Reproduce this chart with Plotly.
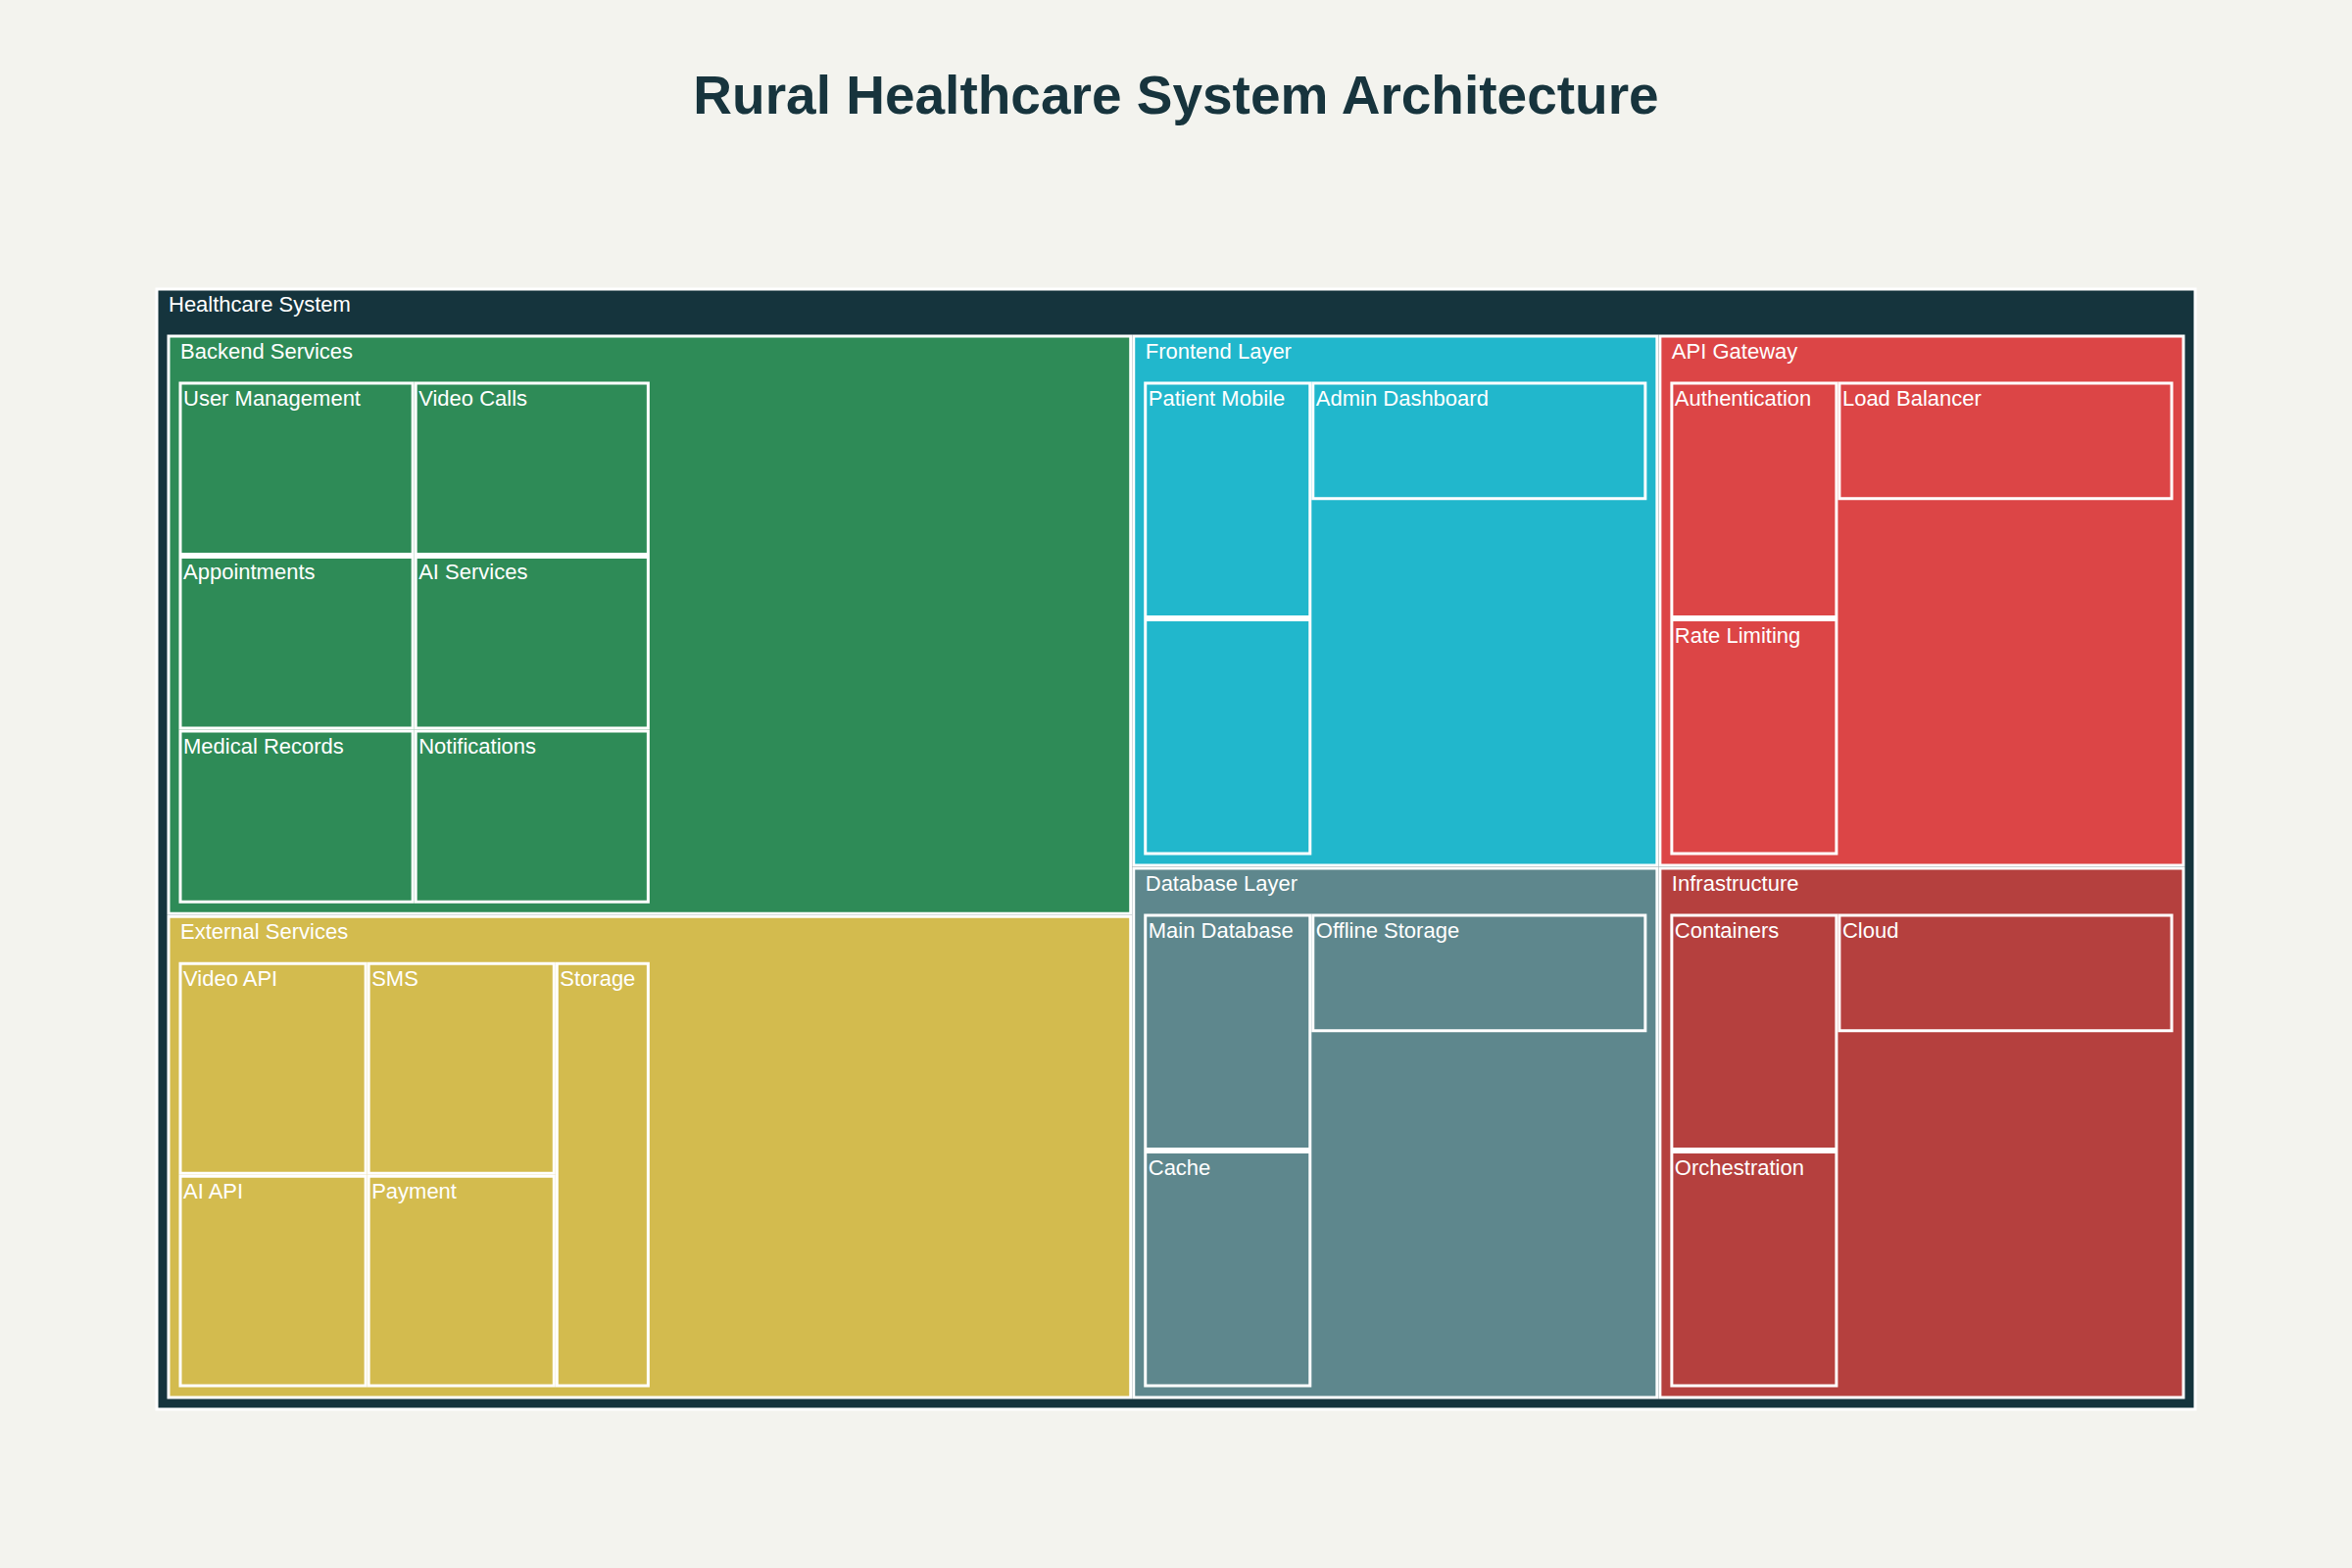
import plotly.graph_objects as go

# ---------------- data ----------------
root_label = "Healthcare System"

categories = ["Backend Services", "External Services", "Frontend Layer",
              "API Gateway", "Database Layer", "Infrastructure"]
category_values = [30, 25, 15, 15, 15, 15]
category_colors = ["#2E8B57", "#D3BB4E", "#21B7CC", "#DC4546", "#5E878D", "#B5403E"]

backend_services = ["User Management", "Appointments", "Medical Records",
                    "Video Calls", "AI Services", "Notifications"]
backend_values = [5, 5, 5, 5, 5, 5]

external_services = ["Video API", "AI API", "SMS", "Payment", "Storage"]
external_values = [5, 5, 5, 5, 5]

frontend_layer = ["Patient Mobile", "Health Worker App", "Admin Dashboard"]
frontend_values = [5, 5, 5]

api_gateway = ["Authentication", "Rate Limiting", "Load Balancer"]
api_values = [5, 5, 5]

database_layer = ["Main Database", "Cache", "Offline Storage"]
database_values = [5, 5, 5]

infrastructure = ["Containers", "Orchestration", "Cloud"]
infrastructure_values = [5, 5, 5]

root_color = "#15343D"

# ---------------- build hierarchy ----------------
children = [
    (backend_services, backend_values),
    (external_services, external_values),
    (frontend_layer, frontend_values),
    (api_gateway, api_values),
    (database_layer, database_values),
    (infrastructure, infrastructure_values),
]

labels = [root_label]
parents = [""]
values = [0]
colors = [root_color]

for cat, cval, ccol in zip(categories, category_values, category_colors):
    labels.append(cat)
    parents.append(root_label)
    values.append(cval)
    colors.append(ccol)

for cat, ccol, (names, vals) in zip(categories, category_colors, children):
    for n, v in zip(names, vals):
        labels.append(n)
        parents.append(cat)
        values.append(v)
        colors.append(ccol)

FONT = "Liberation Sans, Arial, Helvetica, sans-serif"

fig = go.Figure(go.Treemap(
    labels=labels,
    parents=parents,
    values=values,
    branchvalues="remainder",
    textinfo="label",
    textposition="top left",
    textfont=dict(family=FONT, size=22, color="white"),
    marker=dict(colors=colors,
                line=dict(color="white", width=3),
                pad=dict(t=48, l=12, r=12, b=12)),
    tiling=dict(pad=3),
    pathbar=dict(visible=False),
    hoverinfo="label",
))

fig.update_layout(
    width=2400, height=1600,
    paper_bgcolor="#F3F3EE",
    plot_bgcolor="#F3F3EE",
    margin=dict(l=160, r=160, t=295, b=162),
    uniformtext=dict(minsize=22, mode="hide"),
    title=dict(text="<b>Rural Healthcare System Architecture</b>",
               x=0.5, xanchor="center", y=1 - 97 / 1600, yanchor="middle",
               font=dict(family=FONT, size=55, color="#17343D")),
)

fig.write_html("out.html")
